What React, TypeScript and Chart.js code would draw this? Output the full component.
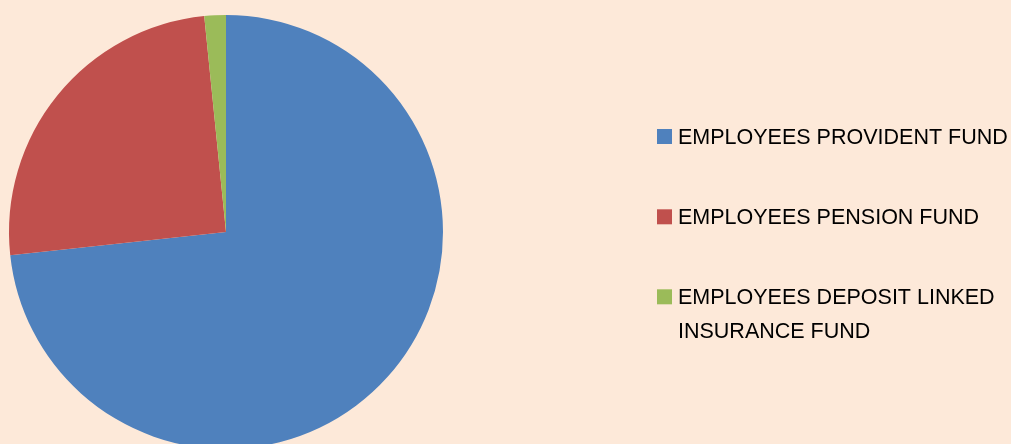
import React, { useEffect, useRef } from "react";
import { Chart, registerables } from "chart.js";

Chart.register(...registerables);

const categories = [
  "EMPLOYEES PROVIDENT FUND",
  "EMPLOYEES PENSION FUND",
  "EMPLOYEES DEPOSIT LINKED INSURANCE FUND",
];
const shares = [73.3, 25.1, 1.6];
const colors = ["#4F81BD", "#C0504D", "#9BBB59"];

const legendPlugin = {
  id: "sideLegend",
  afterDraw(chart: any) {
    const ctx = chart.ctx as CanvasRenderingContext2D;
    const labels = chart.data.labels as string[];
    const bg = chart.data.datasets[0].backgroundColor as string[];
    ctx.save();
    ctx.font = '21.5px "Liberation Sans", Arial, sans-serif';
    ctx.textBaseline = "alphabetic";
    ctx.textAlign = "left";
    const textX = 678;
    const boxX = 657;
    const box = 15;
    const maxW = 1011 - textX - 2;
    const firstBaselines = [144, 224.3, 304.3];
    const lineH = 33.4;
    labels.forEach((label, i) => {
      const words = label.split(" ");
      const lines: string[] = [];
      let cur = "";
      words.forEach((w) => {
        const t = cur ? cur + " " + w : w;
        if (ctx.measureText(t).width > maxW && cur) {
          lines.push(cur);
          cur = w;
        } else cur = t;
      });
      if (cur) lines.push(cur);
      const by = firstBaselines[i];
      ctx.fillStyle = bg[i];
      ctx.fillRect(boxX, by - box, box, box);
      ctx.fillStyle = "#000000";
      lines.forEach((ln, j) => ctx.fillText(ln, textX, by + j * lineH));
    });
    ctx.restore();
  },
};

export default function App() {
  const ref = useRef<HTMLCanvasElement>(null);
  useEffect(() => {
    document.body.style.margin = "0";
    const chart = new Chart(ref.current!, {
      type: "pie",
      data: {
        labels: categories,
        datasets: [
          {
            data: shares,
            backgroundColor: colors,
            borderWidth: 0,
            hoverOffset: 0,
          },
        ],
      },
      options: {
        animation: false,
        responsive: false,
        devicePixelRatio: 1,
        layout: { padding: { left: 9, top: 15, right: 568, bottom: 11 } },
        plugins: { legend: { display: false }, tooltip: { enabled: false } },
      },
      plugins: [legendPlugin],
    });
    return () => chart.destroy();
  }, []);
  return (
    <div
      style={{
        width: 1011,
        height: 444,
        overflow: "hidden",
        background: "#FDE9D9",
        position: "relative",
      }}
    >
      <canvas ref={ref} width={1011} height={460} style={{ display: "block" }} />
    </div>
  );
}
